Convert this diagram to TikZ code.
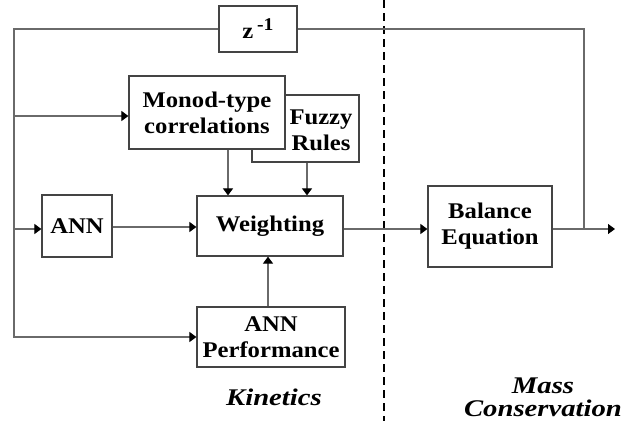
\documentclass[tikz,border=0pt]{standalone}
\usepackage{fontspec}
\setmainfont[FakeStretch=1.1]{Liberation Serif}
\newfontfamily\capfont[FakeStretch=1.2]{Liberation Serif}
\usetikzlibrary{arrows.meta,calc}

\definecolor{linegray}{HTML}{6A6A6A}
\definecolor{boxgray}{HTML}{444444}

\tikzset{
  blk/.style={draw=boxgray, line width=1.2bp, fill=white, align=center,
    inner sep=0pt, font=\fontsize{22.5}{26}\selectfont\bfseries},
  wire/.style={draw=linegray, line width=1.1bp},
  feed/.style={wire, -{Triangle[length=7bp,width=10bp,color=black]}},
  caption/.style={align=center, font=\capfont\fontsize{24}{23}\selectfont\bfseries\itshape},
}

\begin{document}
\begin{tikzpicture}[x=1bp, y=-1bp]
  \useasboundingbox (0,0) rectangle (629,421);

  % region separator
  \draw[line width=2bp, dash pattern=on 8bp off 5bp] (384,0) -- (384,421);

  % blocks (Fuzzy Rules sits behind the Monod box)
  \node[blk, minimum width=107bp, minimum height=67bp] (fuzzy) at (305.5,128.5) {};
  \node[font=\fontsize{22.5}{26}\selectfont\bfseries, align=center] (fuzzytxt) at (321,130) {Fuzzy\\Rules};
  \node[blk, minimum width=156bp, minimum height=73bp] (monod) at (207,112.5) {Monod-type\\correlations};
  \node[blk, minimum width=78bp, minimum height=46bp] (zinv) at (258,29)
    {z\,\raisebox{8bp}{\fontsize{18}{18}\selectfont -1}};
  \node[blk, minimum width=146bp, minimum height=60bp] (weight) at (270,226) {Weighting};
  \node[blk, minimum width=70bp, minimum height=62bp] (ann) at (77,226) {ANN};
  \node[blk, minimum width=148bp, minimum height=60bp] (perf) at (271,337) {ANN\\Performance};
  \node[blk, minimum width=124bp, minimum height=81bp] (bal) at (490,226.5) {Balance\\Equation};

  % captions
  \node[caption] (kin) at (274,397) {Kinetics};
  \node[caption] (mass) at (543,397) {Mass\\Conservation};

  % junction points
  \coordinate (ltop) at (14,29);
  \coordinate (lmon) at (14,116);
  \coordinate (lann) at (14,229);
  \coordinate (lbot) at (14,337);
  \coordinate (split) at (584,229);
  \coordinate (out) at (615,229);

  % delayed feedback and input distribution
  \draw[wire] (split) |- (zinv.east);
  \draw[feed] (zinv.west) -- (ltop) -- (lbot) -- (perf.west);
  \draw[feed] (lmon) -- (lmon -| monod.west);
  \draw[feed] (lann) -- (lann -| ann.west);

  % kinetic blocks into weighting
  \draw[feed] (ann.east |- 0,227) -- (weight.west |- 0,227);
  \draw[feed] (228,0 |- monod.south) -- (228,0 |- weight.north);
  \draw[feed] (307,0 |- fuzzy.south) -- (307,0 |- weight.north);
  \draw[feed] (268,0 |- perf.north) -- (268,0 |- weight.south);

  % weighting to balance and output
  \draw[feed] (weight.east |- 0,229) -- (bal.west |- 0,229);
  \draw[feed] (bal.east |- split) -- (out);
\end{tikzpicture}
\end{document}
